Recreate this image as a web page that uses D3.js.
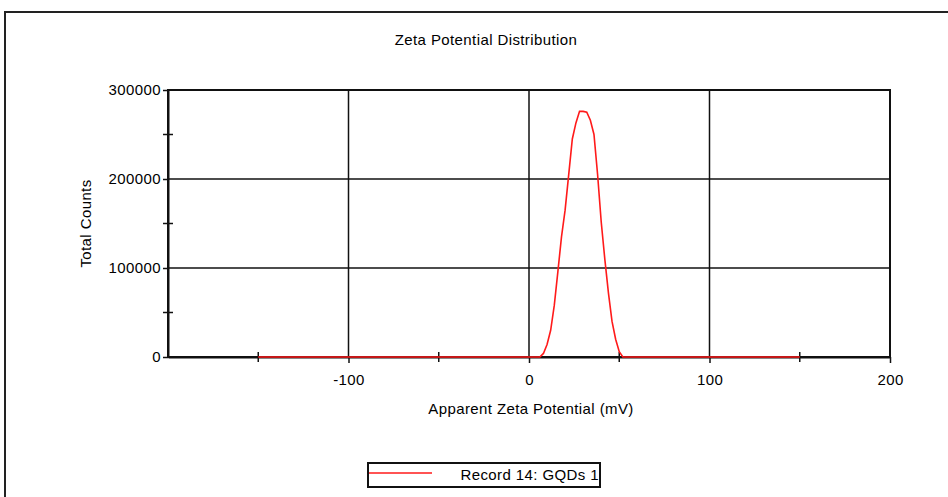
<!DOCTYPE html>
<html>
<head>
<meta charset="utf-8">
<script src="https://cdn.jsdelivr.net/npm/d3@7"></script>
<style>
  body { margin: 0; background: #fff; }
  svg text { font-family: "Liberation Sans", Arial, sans-serif; fill: #000; letter-spacing: 0.4px; }
</style>
</head>
<body>
<div id="chart"></div>
<script>
// the data
const potential = [-150, 6, 8, 10, 12, 14, 16, 18, 20, 22, 24, 26, 28, 30, 32, 34, 36, 38, 40, 42, 44, 46, 48, 50, 52, 150];
const counts = [0, 0, 4000, 14000, 30000, 58000, 96000, 135000, 165000, 205000, 245000, 263000, 276000, 276000, 275000, 266000, 250000, 205000, 152000, 110000, 72000, 40000, 20000, 6000, 0, 0];
const xTicks = [-100, 0, 100, 200];
const xMinor = [-150, -50, 50, 150];
const yTicks = [0, 100000, 200000, 300000];
const yMinor = [50000, 150000, 250000];
const seriesName = "Record 14: GQDs 1";

const W = 948, H = 497;
const margin = { top: 90, bottom: 140, left: 168, right: 58 };
const fs = 15;

const svg = d3.select("#chart")
  .append("svg")
    .attr("width", W)
    .attr("height", H);

// outer frame (runs off the page right and bottom)
svg.append("path")
  .attr("d", `M5,${H + 5} L5,12 L${W + 5},12`)
  .attr("fill", "none")
  .attr("stroke", "#222")
  .attr("stroke-width", 2);

const x = d3.scaleLinear().domain([-200, 200]).range([margin.left, W - margin.right]);
const y = d3.scaleLinear().domain([0, 300000]).range([H - margin.bottom, margin.top]);

// grid
svg.append("g")
  .selectAll("line")
  .data(xTicks.slice(0, -1))
  .join("line")
    .attr("x1", d => x(d)).attr("x2", d => x(d))
    .attr("y1", y(0)).attr("y2", y(300000))
    .attr("stroke", "#111").attr("stroke-width", 1.5);

svg.append("g")
  .selectAll("line")
  .data(yTicks.slice(1, -1))
  .join("line")
    .attr("x1", x(-200)).attr("x2", x(200))
    .attr("y1", d => y(d)).attr("y2", d => y(d))
    .attr("stroke", "#111").attr("stroke-width", 1.5);

// frame of the plot
svg.append("rect")
  .attr("x", x(-200)).attr("y", y(300000))
  .attr("width", x(200) - x(-200)).attr("height", y(0) - y(300000))
  .attr("fill", "none").attr("stroke", "#111").attr("stroke-width", 2);

// axes
const xAxis = svg.append("g")
  .attr("transform", `translate(0,${y(0)})`)
  .call(d3.axisBottom(x).tickValues(xTicks).tickSize(6).tickSizeOuter(0).tickPadding(11)
    .tickFormat(d => String(d)));
const yAxis = svg.append("g")
  .attr("transform", `translate(${x(-200)},0)`)
  .call(d3.axisLeft(y).tickValues(yTicks).tickSize(5).tickSizeOuter(0).tickPadding(2)
    .tickFormat(d => String(d)));

[xAxis, yAxis].forEach(a => {
  a.select(".domain").attr("stroke", "#111").attr("stroke-width", 2);
  a.selectAll(".tick line").attr("stroke", "#111").attr("stroke-width", 1.5);
  a.selectAll("text").attr("font-size", fs).attr("fill", "#000")
    .attr("font-family", "'Liberation Sans', Arial, sans-serif");
});

// minor ticks cross the axis
svg.append("g")
  .selectAll("line")
  .data(xMinor)
  .join("line")
    .attr("x1", d => x(d)).attr("x2", d => x(d))
    .attr("y1", y(0) - 5).attr("y2", y(0) + 5)
    .attr("stroke", "#111").attr("stroke-width", 1.5);
svg.append("g")
  .selectAll("line")
  .data(yMinor)
  .join("line")
    .attr("x1", x(-200) - 5).attr("x2", x(-200) + 5)
    .attr("y1", d => y(d)).attr("y2", d => y(d))
    .attr("stroke", "#111").attr("stroke-width", 1.5);

// the curve
const pts = potential.map((p, i) => [p, counts[i]]);
svg.append("path")
  .datum(pts)
  .attr("fill", "none")
  .attr("stroke", "#ff1a1a")
  .attr("stroke-width", 1.6)
  .attr("d", d3.line().x(d => x(d[0])).y(d => y(d[1])));

// titles
svg.append("text")
  .attr("x", 486).attr("y", 45)
  .attr("text-anchor", "middle").attr("font-size", fs)
  .text("Zeta Potential Distribution");

svg.append("text")
  .attr("x", (x(-200) + x(200)) / 2 + 2).attr("y", 414)
  .attr("text-anchor", "middle").attr("font-size", fs)
  .text("Apparent Zeta Potential (mV)");

svg.append("text")
  .attr("transform", `translate(91,${(y(0) + y(300000)) / 2}) rotate(-90)`)
  .attr("text-anchor", "middle").attr("font-size", fs)
  .text("Total Counts");

// legend
const lg = svg.append("g").attr("transform", "translate(368,463)");
lg.append("rect")
  .attr("width", 232).attr("height", 24)
  .attr("fill", "#fff").attr("stroke", "#111").attr("stroke-width", 2);
lg.append("line")
  .attr("x1", 1).attr("x2", 64).attr("y1", 10).attr("y2", 10)
  .attr("stroke", "#ff1a1a").attr("stroke-width", 1.6);
lg.append("text")
  .attr("x", 231).attr("y", 17)
  .attr("text-anchor", "end").attr("font-size", fs)
  .text(seriesName);
</script>
</body>
</html>
